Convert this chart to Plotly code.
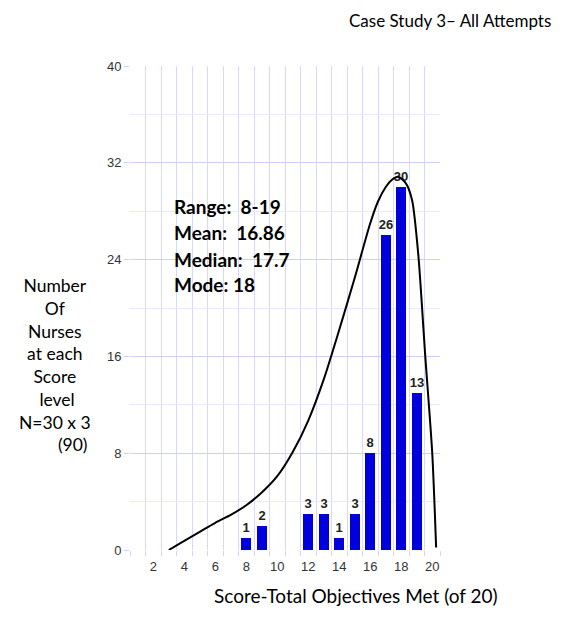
import plotly.graph_objects as go

# Data
scores = [8, 9, 12, 13, 14, 15, 16, 17, 18, 19]
counts = [1, 2, 3, 3, 1, 3, 8, 26, 30, 13]

curve_x = [3.0, 4, 5, 6, 7, 8, 9, 10, 11, 12, 13, 14, 15, 16, 16.5, 17, 17.4, 17.8, 18.3, 18.7, 19.1, 19.55, 20.0, 20.25]
curve_y = [0.0, 0.75, 1.5, 2.25, 2.9, 3.7, 4.75, 6.1, 8.1, 10.7, 14.1, 18.2, 22.5, 27.0, 28.8, 30.0, 30.6, 30.85, 30.3, 28.9, 24.4, 16.0, 8.0, 0.2]

x_tickvals = [2, 4, 6, 8, 10, 12, 14, 16, 18, 20]
y_tickvals = [0, 8, 16, 24, 32, 40]

stats_lines = ["Range:\u00a0 8-19", "Mean:\u00a0 16.86", "Median:\u00a0 17.7", "Mode: 18"]
y_title_lines = ["Number", "Of", "Nurses", "at each", "Score", "\u00a0level", "N=30 x 3", "\u00a0\u00a0\u00a0\u00a0\u00a0\u00a0\u00a0\u00a0(90)"]

NARROW = "Liberation Sans Narrow, Liberation Sans, Arial, sans-serif"
HUMAN = "Lato, Carlito, Calibri, sans-serif"

fig = go.Figure()
fig.add_trace(go.Bar(
    x=scores, y=counts, width=0.66,
    marker=dict(color="#0000dd", line=dict(width=0)),
    text=[str(c) for c in counts], textposition="outside", constraintext="none",
    textfont=dict(family=NARROW, size=13, color="#222222", weight="bold"),
    cliponaxis=False, hoverinfo="skip",
))
fig.add_trace(go.Scatter(
    x=curve_x, y=curve_y, mode="lines", hoverinfo="skip",
    line=dict(color="black", width=2, shape="spline", smoothing=0.7),
))

# white stats box
fig.add_shape(type="rect", xref="x", yref="y", x0=2.45, x1=13.8, y0=20.25, y1=30.2,
              fillcolor="white", line=dict(width=0), layer="below")

stats_y = [28.4, 26.25, 24.05, 21.95]
for line, yy in zip(stats_lines, stats_y):
    fig.add_annotation(x=3.2, y=yy, xref="x", yref="y", text="<b>" + line + "</b>",
                       showarrow=False, xanchor="left", yanchor="middle",
                       font=dict(family=HUMAN, size=19, color="black"))

# title
fig.add_annotation(x=1.3645, y=1.095, xref="paper", yref="paper",
                   text="Case Study 3\u2013 All Attempts", showarrow=False,
                   xanchor="right", yanchor="middle",
                   font=dict(family=HUMAN, size=17, color="black"))
# x title
fig.add_annotation(x=0.729, y=-0.093, xref="paper", yref="paper",
                   text="Score-Total Objectives Met (of 20)", showarrow=False,
                   xanchor="center", yanchor="middle",
                   font=dict(family=HUMAN, size=19, color="black"))
# y title
fig.add_annotation(x=-0.242, y=0.383, xref="paper", yref="paper",
                   text="<br>".join(y_title_lines), showarrow=False,
                   xanchor="center", yanchor="middle", align="center",
                   font=dict(family=HUMAN, size=17.5, color="black"))

fig.update_layout(
    width=564, height=631,
    margin=dict(l=130, r=124, t=66, b=81),
    paper_bgcolor="white", plot_bgcolor="white",
    showlegend=False,
    bargap=0,
)
fig.update_xaxes(
    range=[0.5, 20.5], tickvals=x_tickvals, ticktext=[str(v) for v in x_tickvals],
    showgrid=False, zeroline=False, ticks="", ticklabelstandoff=7,
    tickfont=dict(family=NARROW, size=13, color="#333333"),
    showline=False,
    minor=dict(tick0=0.5, dtick=1, showgrid=True, gridcolor="#d8d8ff", gridwidth=1,
               ticks="outside", ticklen=5, tickcolor="#d4d4ff"),
)
fig.update_yaxes(
    range=[0, 40], tickvals=y_tickvals, ticktext=[str(v) for v in y_tickvals],
    showgrid=True, gridcolor="#cfcfff", gridwidth=1.3, zeroline=False,
    ticks="outside", ticklen=5, tickcolor="#cfcfff",
    tickfont=dict(family=NARROW, size=13, color="#333333"),
    showline=False,
    minor=dict(tickvals=[4, 12, 20, 28, 36], showgrid=True, gridcolor="#e8e8ff", gridwidth=1),
)

fig.write_html("out.html", config={"displayModeBar": False},
               post_script="document.body.style.margin='0px';document.body.style.overflow='hidden';")
